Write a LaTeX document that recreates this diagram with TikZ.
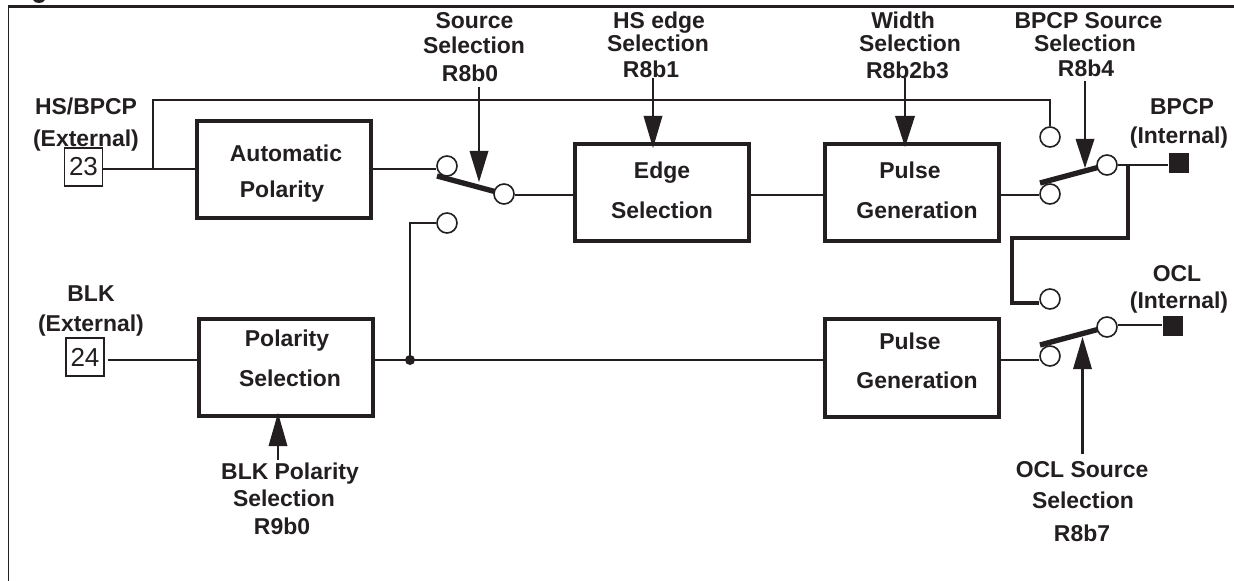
\documentclass[tikz,border=0pt]{standalone}
\usepackage{fontspec}
\usetikzlibrary{backgrounds}
\setmainfont{Liberation Sans}
\definecolor{ink}{HTML}{231F20}
\tikzset{
  x=0.75pt,y=-0.75pt,
  every node/.style={text=ink},
  wire/.style={draw=ink,line width=1.6pt},
  thick wire/.style={draw=ink,line width=2.4pt},
  block/.style={draw=ink,line width=2.8pt,fill=white,minimum width=130pt,minimum height=73pt,inner sep=0pt},
  pin/.style={draw=ink,line width=1pt,fill=white,minimum size=28.5pt,inner sep=0pt,font=\fontsize{19.5}{19.5}\selectfont},
  term/.style={circle,draw=ink,line width=1.2pt,fill=white,minimum size=15pt,inner sep=0pt},
  lever/.style={draw=ink,line width=4pt},
  outpin/.style={draw=none,fill=ink,minimum size=15pt,inner sep=0pt},
  lab/.style={font=\fontsize{17.2}{17.2}\selectfont\bfseries,inner sep=0pt,text height=12.3pt,text depth=0pt},
  head/.style={draw=none,fill=ink},
  ctl/.style={draw=ink,line width=1.6pt},
}
\begin{document}
\begin{tikzpicture}
\useasboundingbox (0,0) rectangle (1234,581);
\draw[draw=ink,line width=1.1pt] (8.5,581) -- (8.5,6.5);
\draw[draw=ink,line width=1.8pt] (8,6.5) -- (1234,6.5);
\fill[ink] (33,0) .. controls (35,4) and (43,4) .. (45,0) -- cycle;
% blocks
\node[block] (auto) at (284,169.5) {};
\node[block] (edge) at (662,192.5) {};
\node[block] (pulseA) at (912,192.5) {};
\node[block] (polar) at (286,367.5) {};
\node[block] (pulseB) at (912,368) {};
\node[pin] (p23) at (83.5,167) {23};
\node[pin] (p24) at (85,357) {24};
% switch terminals
\node[term] (s1a) at (447,166) {};
\node[term] (s1b) at (447,223) {};
\node[term] (s1o) at (504,194) {};
\node[term] (s2a) at (1050,137) {};
\node[term] (s2b) at (1050,194) {};
\node[term] (s2o) at (1107,165) {};
\node[term] (s3a) at (1050,299) {};
\node[term] (s3b) at (1050,356) {};
\node[term] (s3o) at (1107,327) {};
\node[outpin] (bpcp) at (1178.5,163.5) {};
\node[outpin] (ocl) at (1172.5,326) {};
\coordinate (j1) at (153,169);
\coordinate (j2) at (410,360);
\coordinate (j3) at (1128,165);
\begin{scope}[on background layer]
\fill[white] (0,0) rectangle (1234,581);
% wires
\draw[wire] (p23.east |- j1) -- (auto.west |- j1);
\draw[wire] (j1) -- (153,100) -- (1050,100) -- (s2a.north);
\draw[wire] (auto.east |- 0,169) -- (s1a.west |- 0,169);
\draw[wire] (s1o.east |- 0,195) -- (edge.west |- 0,195);
\draw[wire] (edge.east |- 0,195) -- (pulseA.west |- 0,195);
\draw[wire] (pulseA.east |- 0,195) -- (s2b.west |- 0,195);
\draw[wire] (s2o.east |- 0,165) -- (bpcp.west |- 0,165);
\draw[thick wire] (j3) -- (1128,238) -- (1012,238) -- (1012,303) -- (s3a.west |- 0,303);
\draw[wire] (p24.east |- j2) ++(3,0) -- (polar.west |- j2);
\draw[wire] (polar.east |- j2) -- (pulseB.west |- j2);
\draw[wire] (j2) -- (410,223) -- (s1b.west);
\draw[wire] (pulseB.east |- 0,360) -- (s3b.west |- 0,360);
\draw[wire] (s3o.east |- 0,325) -- (ocl.west |- 0,325);
% levers
\draw[lever] (437,176) -- (s1o.center);
\draw[lever] (1040,183) -- (s2o.center);
\draw[lever] (1040,345) -- (s3o.center);
\end{scope}
\fill[ink] (j2) circle[radius=5];
% control arrows
\coordinate (c1) at (479,182);
\coordinate (c2) at (653,148);
\coordinate (c3) at (905,147);
\coordinate (c4) at (1085,168);
\coordinate (c5) at (1082.5,337);
\coordinate (c6) at (278,413);
\draw[ctl] (479,87) -- (479,151);
\fill[head] (c1) -- (469.5,151) -- (488.5,151) -- cycle;
\draw[ctl] (653,78) -- (653,116);
\fill[head] (c2) -- (643.5,116) -- (662.5,116) -- cycle;
\draw[ctl] (905,78) -- (905,116);
\fill[head] (c3) -- (895,116) -- (915,116) -- cycle;
\draw[ctl] (1085,81) -- (1085,139);
\fill[head] (c4) -- (1075.5,139) -- (1094.5,139) -- cycle;
\draw[ctl,line width=2.2pt] (1082.5,454) -- (1082.5,369);
\fill[head] (c5) -- (1073,369) -- (1092,369) -- cycle;
\draw[ctl] (278,460) -- (278,446);
\fill[head] (c6) -- (268.5,446) -- (287.5,446) -- cycle;
% block text
\node[lab] at (286,153) {Automatic};
\node[lab] at (282,189) {Polarity};
\node[lab] at (662,170) {Edge};
\node[lab] at (662,210) {Selection};
\node[lab] at (910,170.5) {Pulse};
\node[lab] at (917,210) {Generation};
\node[lab] at (287,338) {Polarity};
\node[lab] at (290,378) {Selection};
\node[lab] at (910,341) {Pulse};
\node[lab] at (917,380) {Generation};
% outer labels
\node[lab] at (86,106.5) {HS/BPCP};
\node[lab] at (86,138) {(External)};
\node[lab] at (91,293) {BLK};
\node[lab] at (91,323) {(External)};
\node[lab] at (474.5,20.5) {Source};
\node[lab] at (474,45) {Selection};
\node[lab] at (470,73) {R8b0};
\node[lab] at (659,20.5) {HS edge};
\node[lab] at (658,43) {Selection};
\node[lab] at (651,69) {R8b1};
\node[lab] at (903,20.5) {Width};
\node[lab] at (910,43) {Selection};
\node[lab] at (907.5,70) {R8b2b3};
\node[lab] at (1088.5,20) {BPCP Source};
\node[lab] at (1085,43) {Selection};
\node[lab] at (1086,68) {R8b4};
\node[lab] at (1182,106) {BPCP};
\node[lab] at (1179,135) {(Internal)};
\node[lab] at (1177,273.5) {OCL};
\node[lab] at (1179,300) {(Internal)};
\node[lab] at (290,471) {BLK Polarity};
\node[lab] at (284,498) {Selection};
\node[lab] at (282,526) {R9b0};
\node[lab] at (1082,469) {OCL Source};
\node[lab] at (1083,500) {Selection};
\node[lab] at (1082,533) {R8b7};
\end{tikzpicture}
\end{document}
